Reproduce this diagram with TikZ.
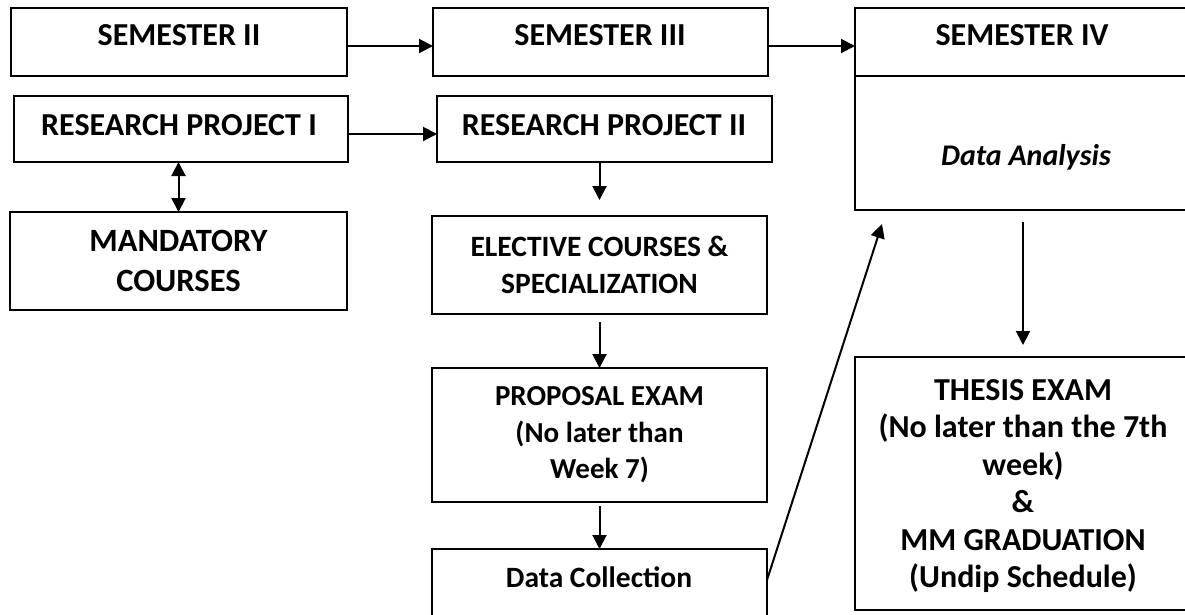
\documentclass[tikz,border=0pt]{standalone}
\usepackage{fontspec}
\setmainfont{Carlito}
\usetikzlibrary{arrows.meta}
\begin{document}
\begin{tikzpicture}[x=1pt,y=-1pt,
  box/.style={draw, line width=2pt, inner sep=0pt, outer sep=0pt, align=center},
  big/.style={font=\bfseries\fontsize{32}{40}\selectfont},
  mid/.style={font=\bfseries\fontsize{29.5}{36.7}\selectfont},
  lbl/.style={anchor=base, inner sep=0pt, outer sep=0pt},
  conn/.style={line width=2pt, -{Triangle[length=14pt,width=14pt]}},
  dconn/.style={line width=2pt, {Triangle[length=14pt,width=14pt]}-{Triangle[length=14pt,width=14pt]}}
]
\useasboundingbox (0,0) rectangle (1185,614);
\clip (0,0) rectangle (1185,614);
% boxes
\node[box, minimum width=336pt, minimum height=68pt] (s2) at (179,42) {};
\node[box, minimum width=335pt, minimum height=68pt] (s3) at (600.5,42) {};
\node[box, minimum width=336pt, minimum height=202pt] (s4) at (1023,109) {};
\node[box, minimum width=334pt, minimum height=66pt] (rp1) at (181,129) {};
\node[box, minimum width=335pt, minimum height=66pt] (rp2) at (604.5,129) {};
\node[box, font=\bfseries\fontsize{32.5}{40}\selectfont, minimum width=337pt, minimum height=98pt] (mand) at (178.5,261) {MANDATORY\\COURSES};
\node[box, mid, minimum width=335pt, minimum height=98pt] (elec) at (599.5,265) {ELECTIVE COURSES \&\\SPECIALIZATION};
\node[box, font=\bfseries\fontsize{29}{36.5}\selectfont, minimum width=335pt, minimum height=134pt] (prop) at (599.5,435) {PROPOSAL EXAM\\(No later than\\Week 7)};
\node[box, minimum width=335pt, minimum height=72pt] (data) at (599.5,585) {};
\node[box, font=\bfseries\fontsize{32}{37.5}\selectfont, minimum width=336pt, minimum height=253pt] (thesis) at (1023,483.5) {\rule{0pt}{26pt}THESIS EXAM\\(No later than the 7th\\week)\\\&\\MM GRADUATION\\(Undip Schedule)};
% divider in semester IV
\coordinate (dv) at (0,76);
\draw[line width=2pt] (s4.west |- dv) -- (s4.east |- dv);
% labels
\node[lbl, big] (t2) at (179,45) {SEMESTER II};
\node[lbl, big] (t3) at (600,45) {SEMESTER III};
\node[lbl, big] (t4) at (1022,45) {SEMESTER IV};
\node[lbl, big] (trp1) at (179,135) {RESEARCH PROJECT I};
\node[lbl, big] (trp2) at (604,135) {RESEARCH PROJECT II};
\node[lbl, font=\bfseries\itshape\fontsize{30}{36}\selectfont] (tda) at (1026,165) {Data Analysis};
\node[lbl, mid] (tdc) at (599,587) {Data Collection};
% connectors
\coordinate (dai) at (882,224);
\draw[conn] ([yshift=-4pt]s2.east) -- ([yshift=-4pt]s3.west);
\draw[conn] ([yshift=-4pt]s3.east) -- ([yshift=-4pt]s3.east -| s4.west);
\draw[conn] ([yshift=-5pt]rp1.east) -- ([yshift=-5pt]rp1.east -| rp2.west);
\draw[dconn] (mand.north |- rp1.south) -- (mand.north);
\draw[conn, shorten >=16pt] (elec.north |- rp2.south) -- (elec.north);
\draw[conn, shorten <=8pt] (elec.south) -- (prop.north);
\draw[conn, shorten <=4pt] (prop.south) -- (data.north);
\draw[conn] ([yshift=5pt]data.east) -- (dai);
\draw[conn, shorten <=12pt, shorten >=12pt] (s4.south) -- (thesis.north);
\end{tikzpicture}
\end{document}
